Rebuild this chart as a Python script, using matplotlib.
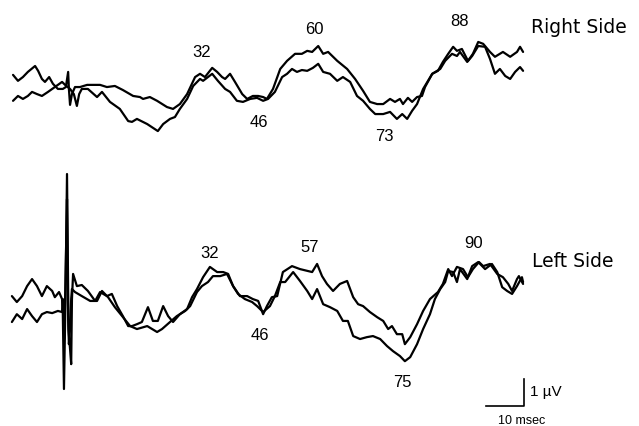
import numpy as np
import matplotlib
matplotlib.use("Agg")
import matplotlib.pyplot as plt

plt.rcParams['font.family'] = ['Liberation Sans', 'DejaVu Sans']

# ---------------- data (time in ms from stimulus, amplitude in microvolts) ----------------
r1_t = [-14.2, -12.9, -11.6, -10.3, -8.4, -7.6, -6.6, -5.8, -4.7, -3.7, -2.4, -1.1, -0.3, 0.3, 0.5, 0.8, 1.3,
        2.1, 3.4, 5.3, 8.7, 10.5, 12.6, 14.7, 17.4, 19.2, 20.0, 21.8, 23.7, 26.3, 27.9, 29.7, 31.6, 33.7,
        35.0, 36.3, 38.2, 39.5, 40.8, 41.6, 42.9, 44.2, 46.1, 47.4, 48.9, 50.3, 51.6, 52.6, 54.2, 56.1,
        57.9, 60.0, 61.8, 63.2, 64.5, 66.1, 67.4, 68.7, 71.1, 73.7, 75.8, 77.9, 79.7, 81.6, 83.2, 85.0,
        86.3, 87.6, 88.4, 89.7, 90.8, 92.1, 93.4, 94.2, 96.1, 97.6, 98.9, 100.3, 101.6, 102.6, 103.9,
        105.5, 106.8, 108.2, 109.5, 111.3, 112.6, 114.7, 116.6, 118.4, 119.2, 120.0]
r1_v = [0.52, 0.30, 0.44, 0.63, 0.85, 0.67, 0.37, 0.26, 0.44, 0.19, 0.0, 0.0, 0.07, 0.63, 0.0, -0.59, -0.19,
        0.07, 0.07, 0.15, 0.15, 0.07, 0.11, -0.04, -0.26, -0.30, -0.37, -0.30, -0.44, -0.67, -0.74, -0.56,
        -0.19, 0.44, 0.56, 0.44, 0.78, 0.63, 0.44, 0.37, 0.56, 0.26, -0.19, -0.37, -0.26, -0.26, -0.30,
        -0.37, 0.0, 0.74, 1.04, 1.30, 1.30, 1.41, 1.37, 1.59, 1.30, 1.37, 1.04, 0.74, 0.37, -0.07, -0.48,
        -0.56, -0.56, -0.37, -0.48, -0.37, -0.56, -0.33, -0.48, -0.30, -0.26, 0.07, 0.56, 0.67, 1.00,
        1.30, 1.56, 1.41, 1.48, 1.04, 1.30, 1.74, 1.67, 1.37, 1.19, 1.37, 1.19, 1.37, 1.56, 1.37]

r2_t = [-14.2, -12.9, -11.6, -10.3, -9.2, -7.9, -6.6, -5.0, -3.2, -1.3, -0.5, 0.8, 1.8, 2.6, 3.2, 3.9, 5.5,
        7.9, 9.2, 11.3, 13.9, 16.1, 17.1, 18.4, 21.1, 23.9, 25.3, 27.1, 28.4, 29.7, 31.6, 33.2, 35.0, 35.8,
        38.2, 39.7, 41.6, 42.9, 44.7, 46.3, 48.2, 50.0, 51.6, 52.9, 54.7, 56.6, 57.9, 59.2, 60.5, 61.8,
        63.2, 64.7, 66.1, 67.4, 69.2, 71.1, 72.6, 74.5, 76.3, 77.9, 79.7, 81.1, 83.2, 85.0, 86.8, 88.2,
        89.5, 90.8, 92.1, 93.7, 96.1, 98.2, 99.5, 101.3, 102.6, 103.4, 105.3, 106.6, 108.2, 110.0, 111.3,
        112.6, 113.9, 115.3, 116.6, 117.9, 119.2, 120.0]
r2_v = [-0.44, -0.26, -0.37, -0.26, -0.11, -0.19, -0.26, -0.11, 0.07, 0.26, 0.15, 0.0, -0.19, -0.63, -0.19,
        0.0, 0.0, -0.30, -0.11, -0.48, -0.74, -1.19, -1.22, -1.11, -1.30, -1.56, -1.30, -1.11, -1.04, -0.74,
        -0.37, 0.11, 0.37, 0.30, 0.56, 0.30, 0.0, -0.11, -0.44, -0.48, -0.37, -0.33, -0.44, -0.37, -0.11,
        0.44, 0.56, 0.74, 0.63, 0.70, 0.67, 0.78, 0.93, 0.63, 0.56, 0.30, 0.44, 0.26, -0.26, -0.44, -0.74,
        -0.93, -0.93, -0.85, -1.11, -0.93, -1.11, -0.81, -0.56, 0.0, 0.56, 0.74, 1.04, 1.30, 1.22, 1.37,
        1.00, 1.22, 1.59, 1.56, 1.11, 0.56, 0.74, 0.48, 0.37, 0.63, 0.81, 0.67]

l1_t = [-14.5, -13.2, -11.8, -10.5, -9.2, -7.9, -6.6, -5.3, -3.9, -3.2, -2.1, -1.3, -1.1, -0.8, -0.4, 0.0,
        0.4, 0.8, 1.1, 1.3, 1.6, 2.6, 3.9, 5.5, 7.4, 8.7, 10.5, 11.8, 13.2, 14.7, 16.1, 17.1, 18.4, 19.7,
        21.3, 22.6, 23.9, 25.3, 26.6, 27.9, 29.7, 31.6, 32.9, 34.2, 35.8, 37.6, 39.5, 41.1, 42.4, 43.7,
        45.5, 47.4, 48.9, 50.3, 51.6, 52.6, 53.9, 55.3, 56.8, 59.2, 61.3, 64.5, 65.8, 67.1, 68.4, 70.0,
        71.8, 73.7, 75.3, 76.6, 77.9, 79.7, 81.6, 83.2, 84.5, 85.5, 86.8, 88.2, 88.9, 90.3, 92.1, 93.7,
        95.5, 97.6, 98.9, 100.3, 101.3, 102.6, 104.2, 105.5, 106.8, 108.4, 109.5, 111.3, 113.2, 114.7,
        116.1, 117.1, 118.4, 118.9, 120.0]
l1_v = [0.11, -0.11, 0.11, 0.48, 0.74, 0.48, 0.11, 0.48, 0.30, 0.07, 0.26, 0.0, -0.56, -3.33, 0.0, 4.63,
        -1.11, -1.85, -2.41, 0.0, 0.93, 0.48, 0.52, 0.30, -0.07, 0.26, 0.11, 0.19, -0.26, -0.63, -1.00,
        -1.00, -0.93, -0.85, -0.30, -0.81, -0.81, -0.26, -0.63, -0.85, -0.56, -0.37, 0.07, 0.37, 0.81,
        1.19, 1.00, 1.00, 0.93, 0.48, 0.11, 0.11, 0.0, -0.07, -0.56, -0.26, 0.07, 0.11, 1.00, 1.22, 1.11,
        1.00, 1.30, 0.85, 0.56, 0.30, 0.56, 0.67, 0.07, -0.19, -0.26, -0.48, -0.67, -0.81, -1.11, -1.00,
        -1.30, -1.30, -1.67, -1.41, -0.93, -0.44, 0.0, 0.26, 0.56, 1.11, 0.85, 1.19, 1.11, 0.81, 1.11,
        1.37, 1.22, 1.30, 0.93, 0.81, 0.56, 0.30, 0.74, 0.85, 0.56]

l2_t = [-14.5, -13.2, -11.8, -10.5, -9.2, -7.9, -6.6, -5.3, -3.9, -2.4, -1.3, -1.1, -0.7, -0.3, 0.0, 0.3,
        0.5, 0.8, 1.1, 1.3, 2.1, 3.9, 6.1, 7.9, 9.2, 10.8, 12.6, 14.5, 16.6, 18.4, 21.1, 23.7, 25.0, 27.1,
        28.9, 31.1, 32.4, 34.2, 35.5, 37.1, 38.4, 40.3, 42.1, 43.7, 45.0, 46.8, 48.7, 50.0, 51.6, 53.4,
        54.7, 56.1, 57.4, 59.5, 61.3, 63.2, 64.5, 65.8, 67.4, 69.2, 71.1, 72.6, 73.9, 75.3, 77.1, 78.9,
        80.5, 82.4, 84.2, 85.8, 87.6, 88.9, 90.3, 92.1, 93.7, 95.5, 96.8, 98.2, 99.5, 100.3, 101.6, 102.6,
        103.4, 105.3, 106.6, 108.2, 110.0, 111.8, 113.2, 114.5, 115.8, 117.1, 118.4, 119.7, 120.0]
l2_v = [-0.85, -0.56, -0.74, -0.37, -0.63, -0.85, -0.56, -0.48, -0.52, -0.44, -0.48, 0.0, -1.48, 1.48, 3.70,
        -0.74, -1.67, -1.11, 0.0, 0.37, 0.26, 0.11, -0.07, -0.07, 0.30, 0.07, -0.30, -0.63, -1.00, -1.11,
        -1.00, -1.22, -1.11, -0.85, -0.63, -0.44, -0.26, 0.26, 0.48, 0.63, 0.85, 0.85, 0.93, 0.48, 0.19,
        0.0, -0.11, -0.26, -0.48, -0.26, 0.11, 0.63, 0.63, 1.00, 0.67, 0.30, 0.0, 0.37, -0.19, -0.30,
        -0.44, -0.81, -0.81, -1.37, -1.48, -1.41, -1.37, -1.48, -1.74, -1.93, -2.11, -2.30, -2.15, -1.67,
        -1.11, -0.56, 0.0, 0.37, 0.63, 1.04, 1.00, 0.63, 1.11, 0.74, 1.22, 1.37, 1.11, 1.30, 1.00, 0.44,
        0.30, 0.19, 0.48, 0.81, 0.63]

right_peaks = ["32", "46", "60", "73", "88"]
left_peaks = ["32", "46", "57", "75", "90"]
side_labels = ["Right Side", "Left Side"]
scale_ms = 10
scale_uv = 1

# ---------------- layout ----------------
left_offset = -7.78     # vertical separation of the two recordings (µV units)
right_peak_pos = [(35.5, 1.37), (50.5, -1.19), (65.0, 2.22), (83.4, -1.74), (103.2, 2.52)]
left_peak_pos = [(37.6, -6.04), (50.8, -9.11), (63.9, -5.85), (88.2, -10.85), (107.1, -5.70)]

fig = plt.figure(figsize=(6.39, 4.27), dpi=100)
ax = fig.add_axes([0, 0, 1, 1])
ax.set_xlim(-17.63, 150.5)
ax.set_ylim(-12.48, 3.33)
ax.axis('off')

lw = 1.6
kw = dict(color='black', lw=lw, solid_joinstyle='round', solid_capstyle='round')
ax.plot(r1_t, r1_v, **kw)
ax.plot(r2_t, r2_v, **kw)
ax.plot(l1_t, np.array(l1_v) + left_offset, **kw)
ax.plot(l2_t, np.array(l2_v) + left_offset, **kw)

for lab, (x, y) in zip(right_peaks, right_peak_pos):
    ax.text(x, y, lab, ha='center', va='center', fontsize=12)
for lab, (x, y) in zip(left_peaks, left_peak_pos):
    ax.text(x, y, lab, ha='center', va='center', fontsize=12)

side_font = ['DejaVu Sans']
ax.text(122.1, 2.33, side_labels[0], ha='left', va='center', fontsize=13.5, family=side_font)
ax.text(122.4, -6.37, side_labels[1], ha='left', va='center', fontsize=13.5, family=side_font)

# scale bar
bar_end = 120.3
bar_bottom = -11.74
ax.plot([bar_end - scale_ms, bar_end, bar_end], [bar_bottom, bar_bottom, bar_bottom + scale_uv],
        color='black', lw=1.2)
ax.text(bar_end + 1.5, bar_bottom + 0.55 * scale_uv, "1 µV", ha='left', va='center', fontsize=11)
ax.text(bar_end - 0.8, bar_bottom - 0.52, "10 msec", ha='center', va='center', fontsize=9)

fig.savefig("out.png", dpi=100)
